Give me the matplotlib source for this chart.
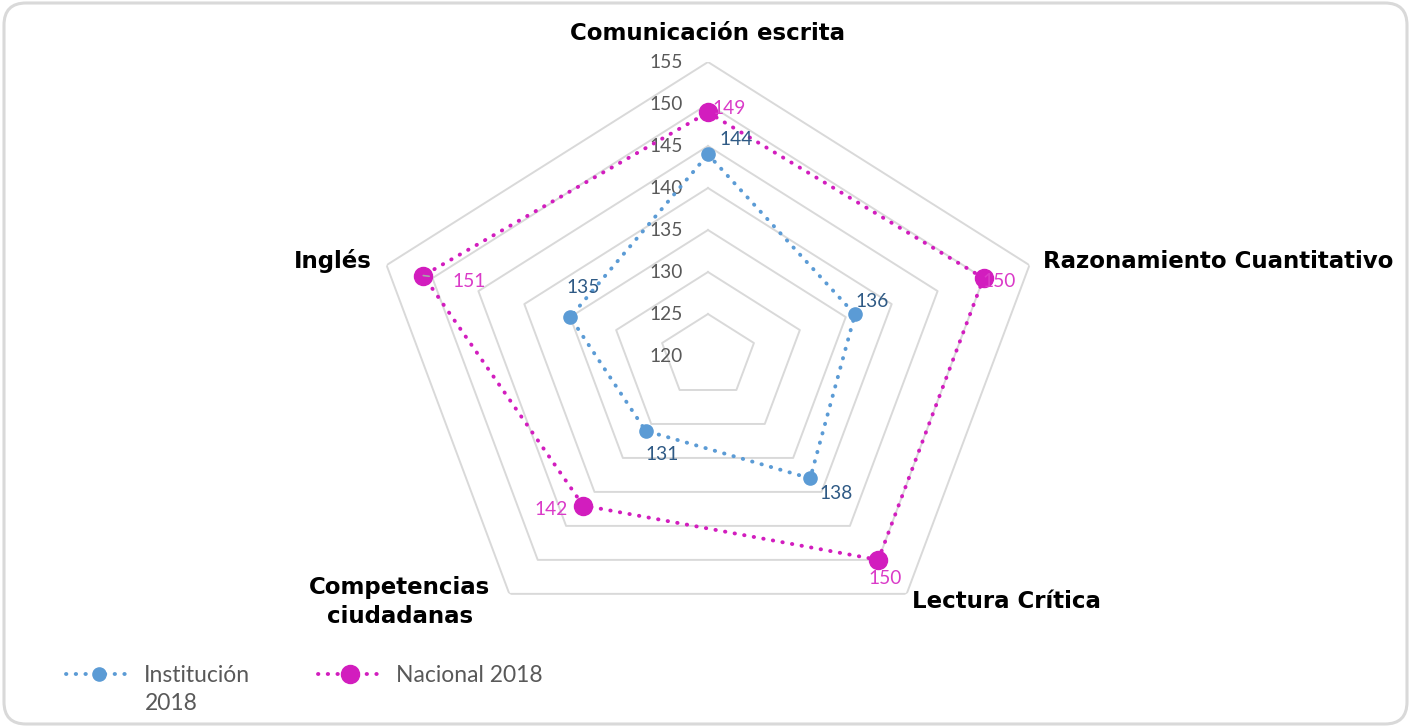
import numpy as np
import matplotlib
matplotlib.use('Agg')
import matplotlib.pyplot as plt
from matplotlib.patches import FancyBboxPatch
from matplotlib.lines import Line2D

categorias = ['Comunicación escrita', 'Razonamiento Cuantitativo', 'Lectura Crítica',
              'Competencias\nciudadanas', 'Inglés']
institucion = [144, 136, 138, 131, 135]
nacional = [149, 150, 150, 142, 151]
niveles = [120, 125, 130, 135, 140, 145, 150, 155]

azul = '#5B9BD5'
azul_txt = '#2F5A85'
magenta = '#D21DBE'
magenta_txt = '#DA3BC8'
gris = '#595959'

fig = plt.figure(figsize=(14.11, 7.27), dpi=100)

# fondo con borde redondeado (coordenadas en pixeles)
bg = fig.add_axes([0, 0, 1, 1])
bg.set_xlim(0, 1411)
bg.set_ylim(727, 0)
bg.axis('off')
bg.add_patch(FancyBboxPatch((4, 3), 1403, 721, boxstyle='round,pad=0,rounding_size=22',
                            fc='white', ec='#D9D9D9', lw=2.2))

# radar: caja mas ancha que alta, el pentagono sale estirado como en Excel
ax = fig.add_axes([370 / 1411, 77 / 727, 676 / 1411, 588 / 727], projection='polar')
ax.set_aspect('auto')
ax.set_theta_zero_location('N')
ax.set_theta_direction(-1)
ax.set_ylim(120, 155)
ax.grid(False)
ax.spines['polar'].set_visible(False)
ax.set_xticks([])
ax.set_yticks([])
ax.patch.set_alpha(0)

n = len(categorias)
theta = np.arange(n) * 2 * np.pi / n
theta_c = np.append(theta, theta[0])

for lv in niveles[1:]:
    ax.plot(theta_c, [lv] * (n + 1), color='#D9D9D9', lw=1.4, zorder=1)

for lv in niveles:
    ax.annotate(str(lv), (0, lv), xytext=(-25, 0), textcoords='offset pixels',
                ha='right', va='center', fontsize=13.8, color=gris, family='Lato')

ins_c = np.append(institucion, institucion[0])
nac_c = np.append(nacional, nacional[0])
ax.plot(theta_c, ins_c, color=azul, lw=2.8, linestyle=(0, (0.1, 2.4)),
        dash_capstyle='round', zorder=3)
ax.plot(theta, institucion, 'o', color=azul, ms=9.5, zorder=4)
ax.plot(theta_c, nac_c, color=magenta, lw=2.8, linestyle=(0, (0.1, 2.4)),
        dash_capstyle='round', zorder=5)
ax.plot(theta, nacional, 'o', color=magenta, ms=13, zorder=6)

off_ins = [(28, 15), (17, 13), (26, -15), (17, -24), (13, 30)]
off_nac = [(21, 4), (16, -3), (7, -19), (-32, -4), (46, -6)]
for t, v, o in zip(theta, institucion, off_ins):
    ax.annotate(str(v), (t, v), xytext=o, textcoords='offset pixels', ha='center',
                va='center', fontsize=13.8, color=azul_txt, family='Lato', zorder=7)
for i, (t, v, o) in enumerate(zip(theta, nacional, off_nac)):
    props = dict(arrowstyle='-', color='#A6A6A6', lw=1.2, shrinkA=15, shrinkB=0) if i == 4 else None
    ax.annotate(str(v), (t, v), xytext=o, textcoords='offset pixels', ha='center',
                va='center', fontsize=13.8, color=magenta_txt, family='Lato', zorder=7,
                arrowprops=props)

# nombres de las areas
cat_kw = dict(fontsize=16.5, fontweight='bold', color='black', family='DejaVu Sans')
bg.text(707, 33, categorias[0], ha='center', va='center', **cat_kw)
bg.text(1043, 261, categorias[1], ha='left', va='center', **cat_kw)
bg.text(1006, 602, categorias[2], ha='center', va='center', **cat_kw)
bg.text(400, 602, categorias[3], ha='center', va='center', linespacing=1.3, **cat_kw)
bg.text(372, 261, categorias[4], ha='right', va='center', **cat_kw)

# leyenda (la etiqueta de Institucion parte en dos lineas, como en el original)
h1 = Line2D([], [], color=azul, lw=2.8, linestyle=(0, (0.1, 2.4)), dash_capstyle='round',
            marker='o', ms=9.5)
h2 = Line2D([], [], color=magenta, lw=2.8, linestyle=(0, (0.1, 2.4)), dash_capstyle='round',
            marker='o', ms=13)
leg = fig.legend([h1, h2], ['Institución', 'Nacional 2018'], loc='center left',
                 bbox_to_anchor=(66 / 1411, 1 - 676 / 727), ncol=2, frameon=False,
                 prop={'family': 'Lato', 'size': 16.5}, handlelength=2.85,
                 handletextpad=0.55, columnspacing=2.95, borderaxespad=0, borderpad=0)
for t in leg.get_texts():
    t.set_color(gris)
bg.text(145, 704, '2018', ha='left', va='center', fontsize=16.5, color=gris, family='Lato')

fig.savefig('out.png', dpi=100)
